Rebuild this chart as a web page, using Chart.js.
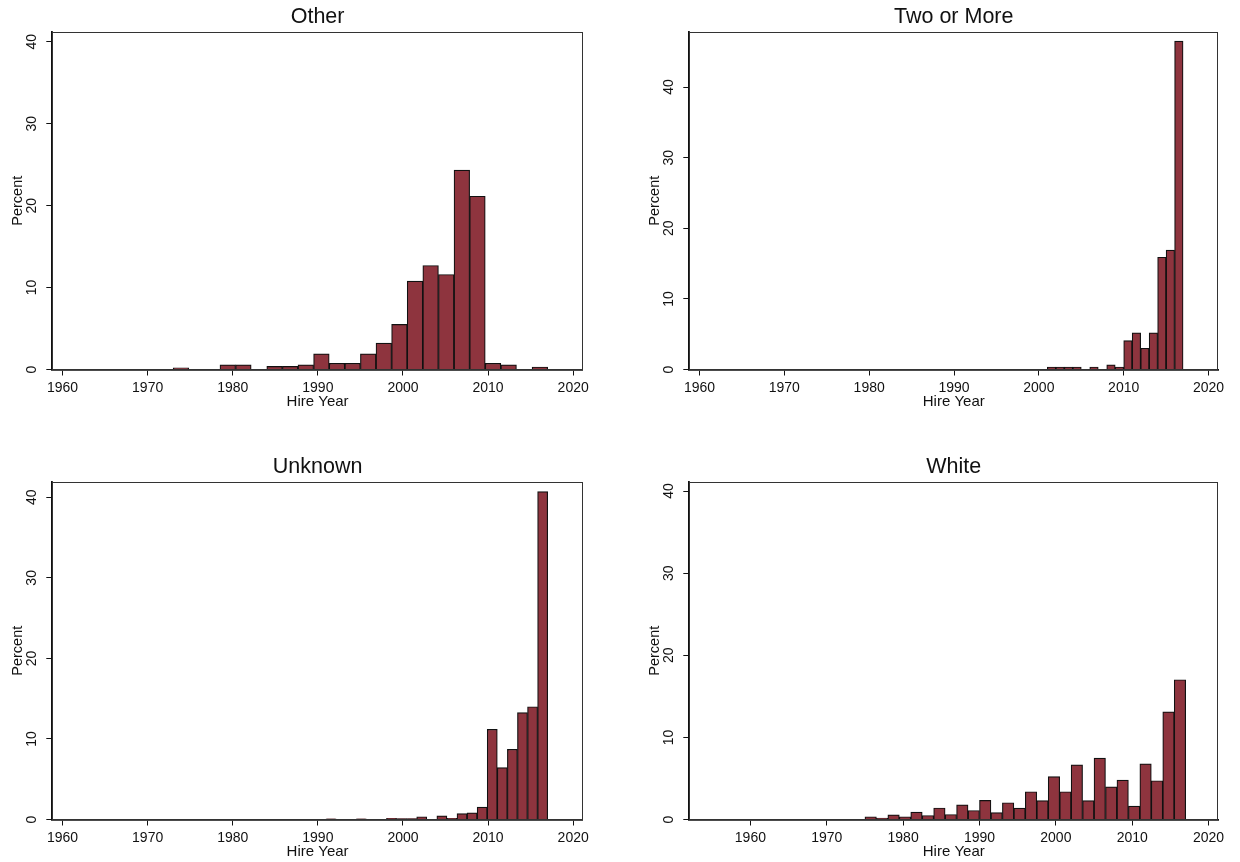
<!DOCTYPE html>
<html>
<head>
<meta charset="utf-8">
<script src="https://cdn.jsdelivr.net/npm/chart.js@4/dist/chart.umd.min.js"></script>
<style>
  html, body { margin: 0; padding: 0; background: #fff; }
  #page { position: relative; width: 1240px; height: 862px; overflow: hidden; background: #fff; }
  canvas { position: absolute; }
</style>
</head>
<body>
<div id="page">
  <canvas id="pOther" width="600" height="412" style="left:0px;top:0px"></canvas>
  <canvas id="pTwo" width="600" height="412" style="left:637px;top:0px"></canvas>
  <canvas id="pUnknown" width="600" height="412" style="left:0px;top:450px"></canvas>
  <canvas id="pWhite" width="600" height="412" style="left:637px;top:450px"></canvas>
</div>
<script>
// axis ticks
const xTicks = [1960, 1970, 1980, 1990, 2000, 2010, 2020];
const yTicks = [0, 10, 20, 30, 40];

// Other: 24 bins, 1973-2017
const otherBinStart = 1973;
const otherBinWidth = 1.8333;
const otherPct = [0.19, 0, 0, 0.57, 0.57, 0, 0.38, 0.38, 0.57, 1.9, 0.76, 0.76,
                  1.9, 3.23, 5.5, 10.8, 12.7, 11.6, 24.35, 21.15, 0.76, 0.57, 0, 0.3];

// Two or More: 1-year bins, 2001-2017
const twoBinStart = 2001;
const twoBinWidth = 1;
const twoPct = [0.33, 0.33, 0.33, 0.33, 0, 0.33, 0, 0.67, 0.33, 4.1, 5.2, 3.0, 5.2, 15.9, 16.9, 46.5];

// Unknown: bins of ~1.18 years, shown from 1991 (earlier bins empty)
const unknownBinStart = 1990.96;
const unknownBinWidth = 1.1837;
const unknownPct = [0.08, 0, 0, 0.08, 0, 0, 0.15, 0.1, 0.1, 0.33, 0, 0.45, 0.16, 0.74,
                    0.83, 1.55, 11.2, 6.45, 8.72, 13.26, 14.0, 40.7];

// White: 1.5-year bins, 1969-2017
const whiteBinStart = 1969;
const whiteBinWidth = 1.5;
const whitePct = [0.05, 0, 0.05, 0, 0.32, 0.16, 0.57, 0.32, 0.89, 0.49, 1.4, 0.61,
                  1.78, 1.1, 2.33, 0.83, 2.04, 1.38, 3.38, 2.31, 5.22, 3.38, 6.66, 2.31,
                  7.47, 3.98, 4.8, 1.62, 6.78, 4.72, 13.1, 17.02];

const ink = '#111111';
const barFill = '#8e343e';
const barEdge = '#111111';

Chart.defaults.font.family = '"Liberation Sans", Arial, sans-serif';
Chart.defaults.color = ink;

// plot region outline (Stata style box)
const framePlugin = {
    id: 'frame',
    afterDraw(chart) {
        const { ctx, chartArea: a } = chart;
        ctx.save();
        ctx.strokeStyle = '#333';
        ctx.lineWidth = 1;
        ctx.strokeRect(Math.round(a.left) + 0.5, Math.round(a.top) + 0.5,
                       Math.round(a.right - a.left) - 1, Math.round(a.bottom - a.top) - 1);
        ctx.restore();
    }
};

const histPanel = (id, title, binStart, binWidth, pct, xMin, xMax, yMax, padRight) => {
    const points = pct.map((v, i) => ({ x: binStart + binWidth * (i + 0.5), y: v }));
    return new Chart(document.getElementById(id), {
        type: 'bar',
        data: {
            datasets: [{
                data: points,
                backgroundColor: barFill,
                borderColor: barEdge,
                borderWidth: 1.2,
                barPercentage: 1,
                categoryPercentage: 1
            }]
        },
        options: {
            responsive: false,
            animation: false,
            devicePixelRatio: 1,
            layout: { padding: { left: 0, right: padRight, top: 0, bottom: 0 } },
            plugins: {
                legend: { display: false },
                tooltip: { enabled: false },
                title: {
                    display: true, text: title, fullSize: false, color: ink,
                    font: { size: 21.5, weight: 'normal' },
                    padding: { top: 4.6, bottom: 1.6 }
                }
            },
            scales: {
                x: {
                    type: 'linear', min: xMin, max: xMax, offset: false, z: 1,
                    afterBuildTicks: s => { s.ticks = xTicks.map(v => ({ value: v })); },
                    afterFit: s => { s.height = 42.5; },
                    grid: { display: true, drawOnChartArea: false, drawTicks: true, tickLength: 6, color: ink, offset: false },
                    border: { display: true, color: ink, width: 1.8 },
                    ticks: { color: ink, padding: 4, font: { size: 14 }, maxRotation: 0, autoSkip: false, callback: v => String(v) },
                    title: { display: true, text: 'Hire Year', color: ink, font: { size: 15 }, padding: { top: 0, bottom: 1.0 } }
                },
                y: {
                    type: 'linear', min: 0, max: yMax, z: 1,
                    afterBuildTicks: s => { s.ticks = yTicks.map(v => ({ value: v })); },
                    afterFit: s => { s.width = 52.3; },
                    grid: { display: true, drawOnChartArea: false, drawTicks: true, tickLength: 6, color: ink },
                    border: { display: true, color: ink, width: 1.8 },
                    ticks: { color: ink, padding: 6, font: { size: 14 }, minRotation: 90, maxRotation: 90, crossAlign: 'center', callback: v => String(v) },
                    title: { display: true, text: 'Percent', color: ink, font: { size: 14.5 }, padding: { top: 9.3, bottom: 0 } }
                }
            }
        },
        plugins: [framePlugin]
    });
};

histPanel('pOther', 'Other', otherBinStart, otherBinWidth, otherPct, 1958.8, 2021.14, 41.2, 17.1);
histPanel('pTwo', 'Two or More', twoBinStart, twoBinWidth, twoPct, 1958.8, 2021.14, 47.8, 18.8);
histPanel('pUnknown', 'Unknown', unknownBinStart, unknownBinWidth, unknownPct, 1958.8, 2021.14, 41.9, 17.1);
histPanel('pWhite', 'White', whiteBinStart, whiteBinWidth, whitePct, 1952.0, 2021.26, 41.1, 18.8);
</script>
</body>
</html>
